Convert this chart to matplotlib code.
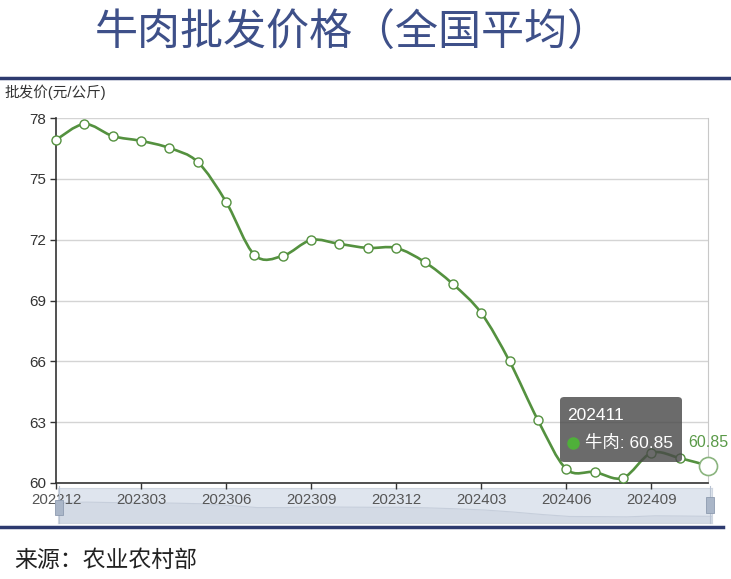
import matplotlib
matplotlib.use('Agg')
import matplotlib.pyplot as plt
import numpy as np
from matplotlib.path import Path
from matplotlib.patches import PathPatch, Rectangle, FancyBboxPatch

plt.rcParams['font.family'] = ['Liberation Sans', 'Noto Sans CJK SC', 'DejaVu Sans']

# monthly wholesale beef price, national average (yuan/kg)
months = ['202212', '202301', '202302', '202303', '202304', '202305',
          '202306', '202307', '202308', '202309', '202310', '202311',
          '202312', '202401', '202402', '202403', '202404', '202405',
          '202406', '202407', '202408', '202409', '202410', '202411']
price = [76.92, 77.70, 77.11, 76.87, 76.52, 75.83,
         73.86, 71.25, 71.20, 71.98, 71.79, 71.59,
         71.59, 70.90, 69.81, 68.38, 66.00, 63.10,
         60.69, 60.54, 60.25, 61.48, 61.23, 60.85]
yticks = [60, 63, 66, 69, 72, 75, 78]
xtick_idx = [0, 3, 6, 9, 12, 15, 18, 21]

W, H = 731, 579
def fx(x):
    return x / W
def fy(y):
    return 1 - y / H

green = '#54913f'
navy = '#2d3a6f'

fig = plt.figure(figsize=(W / 100, H / 100), dpi=100)

# title + rules
fig.text(fx(353), fy(34), '牛肉批发价格（全国平均）', ha='center', va='center',
         fontsize=31, color='#3e5089')
fig.add_artist(plt.Line2D([0, 1], [fy(78), fy(78)], color=navy, lw=2.5))
fig.add_artist(plt.Line2D([0, fx(723)], [fy(527), fy(527)], color=navy, lw=2.5))
fig.text(fx(5), fy(92), '批发价(元/公斤)', ha='left', va='center', fontsize=10.5, color='#333333')
fig.text(fx(14), fy(560), '来源：农业农村部', ha='left', va='center', fontsize=16.5, color='#222222')

x = np.arange(len(price))
y = np.array(price)

# data zoom slider
ax_s = fig.add_axes([fx(58), fy(523), (712 - 58) / W, (523 - 488) / H], zorder=0)
ax_s.set_facecolor('#dfe5ee')
ax_s.fill_between(x, y, 40, color='#d3dae5', lw=0)
ax_s.plot(x, y, color='#c6cedb', lw=0.8)
ax_s.set_xlim(0, len(price) - 1)
ax_s.set_ylim(53, 94.4)
ax_s.set_xticks([])
ax_s.set_yticks([])
for s in ax_s.spines.values():
    s.set_color('#cfd6e0')
    s.set_linewidth(0.8)

# main axes
ax = fig.add_axes([fx(56), fy(483), (708 - 56) / W, (483 - 118) / H], zorder=1)
ax.set_facecolor('white')

# smooth curve through the points (cubic bezier, catmull-rom style)
verts = [(x[0], y[0])]
codes = [Path.MOVETO]
n = len(x)
for i in range(n - 1):
    p0 = np.array([x[max(i - 1, 0)], y[max(i - 1, 0)]])
    p1 = np.array([x[i], y[i]])
    p2 = np.array([x[i + 1], y[i + 1]])
    p3 = np.array([x[min(i + 2, n - 1)], y[min(i + 2, n - 1)]])
    c1 = p1 + (p2 - p0) / 6.0
    c2 = p2 - (p3 - p1) / 6.0
    verts += [tuple(c1), tuple(c2), tuple(p2)]
    codes += [Path.CURVE4, Path.CURVE4, Path.CURVE4]
ax.add_patch(PathPatch(Path(verts, codes), facecolor='none', edgecolor=green,
                       lw=1.9, zorder=3, clip_on=False))
ax.plot(x[:-1], y[:-1], 'o', ms=6.5, mfc='white', mec=green, mew=1.0, zorder=4, clip_on=False)
ax.plot(x[-1:], y[-1:], 'o', ms=13, mfc='white', mec='#8ab47e', mew=1.2, zorder=4, clip_on=False)
ax.annotate('%.2f' % price[-1], (x[-1], y[-1]), xytext=(0, 17), textcoords='offset points',
            ha='center', va='center', fontsize=11.5, color='#5a9a48', zorder=6)

ax.set_xlim(0, n - 1)
ax.set_ylim(60, 78)
ax.set_yticks(yticks)
ax.set_xticks(xtick_idx)
ax.set_xticklabels([months[i] for i in xtick_idx])
ax.grid(axis='y', color='#d4d4d4', lw=1)
ax.set_axisbelow(True)
ax.tick_params(axis='y', length=4, width=1, pad=3, labelsize=11, colors='#333333')
ax.tick_params(axis='x', length=4, width=1, pad=3.5, labelsize=10.8, colors='#333333', labelcolor='#555555')
ax.spines['top'].set_visible(False)
ax.spines['right'].set_color('#c8c8c8')
ax.spines['left'].set_color('#333333')
ax.spines['bottom'].set_color('#333333')
ax.spines['left'].set_linewidth(1.2)
ax.spines['bottom'].set_linewidth(1.2)

# slider handles
for hx, hy0, hy1 in [(55, 500, 515), (706, 497, 513)]:
    fig.add_artist(Rectangle((fx(hx), fy(hy1)), 8 / W, (hy1 - hy0) / H, transform=fig.transFigure,
                             facecolor='#aab6c8', edgecolor='#8e9bb0', lw=0.6, zorder=5))
    fig.add_artist(plt.Line2D([fx(hx + 4), fx(hx + 4)], [fy(523), fy(486)], color='#b9c3d2', lw=0.8, zorder=4))

# tooltip for the last month
tip = FancyBboxPatch((fx(560), fy(462)), (682 - 560) / W, (462 - 397) / H,
                     boxstyle='round,pad=0,rounding_size=0.006', transform=fig.transFigure,
                     facecolor='#4a4a4a', edgecolor='none', alpha=0.82, zorder=10)
fig.add_artist(tip)
fig.text(fx(567), fy(416), months[-1], ha='left', va='center', fontsize=12.5, color='white', zorder=11)
fig.add_artist(plt.Line2D([fx(573)], [fy(443)], marker='o', ms=8, color='#4fb03a', lw=0, zorder=11))
fig.text(fx(585), fy(443), '牛肉: %.2f' % price[-1], ha='left', va='center', fontsize=12.5,
         color='white', zorder=11)

fig.savefig('out.png', dpi=100)
